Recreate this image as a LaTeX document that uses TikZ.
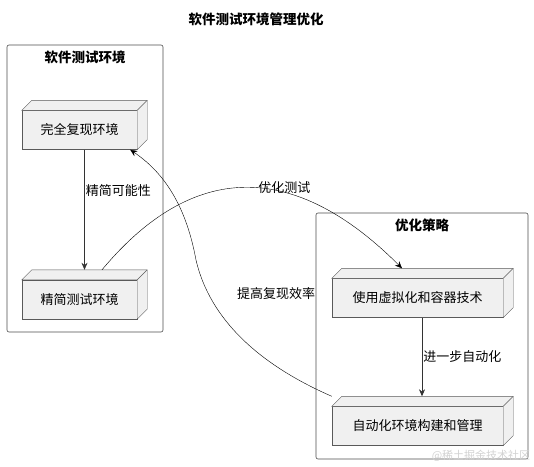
\documentclass[tikz,border=0pt]{standalone}
\usepackage{fontspec}
\setmainfont{Noto Sans CJK SC}
\usepackage{tikz}
\usetikzlibrary{arrows.meta,calc}

% top and right faces of a 3d box
\newcommand\boxfaces[1]{%
\draw[face](#1.north west)--++(10,-10)-|($(#1.south east)+(10,-10)$)--(#1.south east)--(#1.north east)--cycle;
\draw[face](#1.north east)--++(10,-10);}

\begin{document}
\begin{tikzpicture}[x=1pt,y=-1pt,>={Stealth[length=7pt,width=6pt]},
  box/.style={draw=gray!70!black,fill=gray!12,minimum height=39pt,inner sep=0pt,font=\fontsize{13}{15}\selectfont},
  face/.style={draw=gray!70!black,fill=gray!12},
  pkg/.style={draw=gray!60!black,rounded corners=2pt,semithick},
  lbl/.style={font=\fontsize{13}{15}\selectfont,inner sep=1pt},
  ttl/.style={font=\fontsize{13.5}{15}\selectfont\bfseries}]
\useasboundingbox(0,0)rectangle(534,466);
\node[ttl](title) at (256,19){软件测试环境管理优化};
\draw[pkg](7,45)rectangle(163,332);
\node[ttl](lefttitle) at (85,57){软件测试环境};
\draw[pkg](316,213)rectangle(528,459);
\node[ttl](righttitle) at (422,225){优化策略};
\node[box,minimum width=115pt](full) at (79.5,130){完全复现环境};
\node[box,minimum width=115pt](lean) at (79.5,299.5){精简测试环境};
\node[box,minimum width=171pt](virt) at (417.5,298){使用虚拟化和容器技术};
\node[box,minimum width=171pt](auto) at (417.5,426){自动化环境构建和管理};
\boxfaces{full}\boxfaces{lean}\boxfaces{virt}\boxfaces{auto}
\draw[->,gray!40!black,semithick]([xshift=5pt]full.south)--([xshift=5pt,yshift=10pt]lean.north)node[lbl,pos=0.34,right,text=black]{精简可能性};
\draw[->,gray!40!black,semithick]([xshift=4.5pt]virt.south)--([xshift=4.5pt,yshift=10pt]auto.north)node[lbl,midway,right,text=black]{进一步自动化};
\draw[->]([xshift=22.5pt,yshift=10pt]lean.north)..controls +(90,-108) and +(-109,-109)..([xshift=-15.5pt,yshift=10pt]virt.north)node[lbl,pos=0.63,yshift=5pt]{优化测试};
\draw[->]([yshift=10pt]auto.north west)..controls (260,365) and (210,320)..(196,260)..controls (185,200) and (160,170)..([xshift=-7pt]full.south east);
\node[lbl](efflbl) at (276,294){提高复现效率};
\node[font=\fontsize{11}{12}\selectfont,text=gray!35](mark) at (481,456){@稀土掘金技术社区};
\end{tikzpicture}
\end{document}
